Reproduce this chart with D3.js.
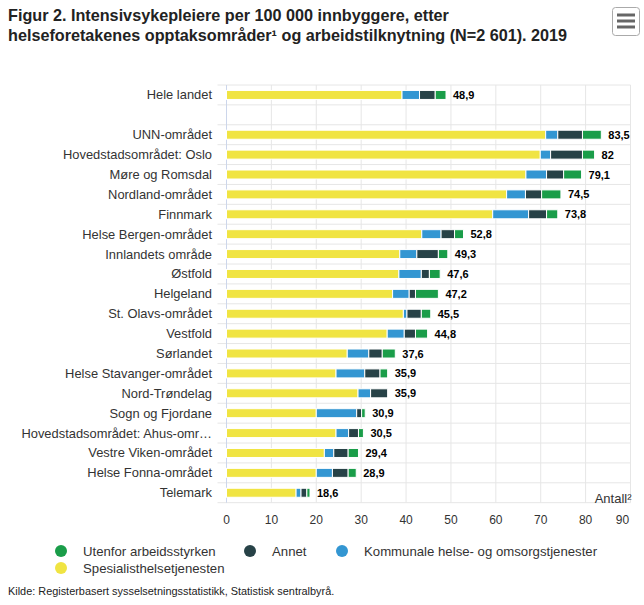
<!DOCTYPE html>
<html><head><meta charset="utf-8">
<script src="https://cdn.jsdelivr.net/npm/d3@7/dist/d3.min.js"></script>
<style>body{margin:0;background:#fff;font-family:"Liberation Sans",Arial,sans-serif}</style>
</head><body><svg id="c" width="644" height="605"></svg>
<script>
const categories = ["Hele landet","","UNN-området","Hovedstadsområdet: Oslo","Møre og Romsdal","Nordland-området","Finnmark","Helse Bergen-området","Innlandets område","Østfold","Helgeland","St. Olavs-området","Vestfold","Sørlandet","Helse Stavanger-området","Nord-Trøndelag","Sogn og Fjordane","Hovedstadsområdet: Ahus-omr…","Vestre Viken-området","Helse Fonna-området","Telemark"];
const spesialist = [39.1,null,71.1,69.9,66.7,62.4,59.3,43.5,38.6,38.4,37.0,39.4,35.8,26.9,24.4,29.3,20.0,24.4,21.8,20.0,15.5];
const kommunale  = [3.9,null,2.7,2.3,4.6,4.2,8.0,4.3,3.8,5.0,3.7,0.8,3.8,4.8,6.4,2.8,9.0,2.8,2.1,3.6,1.1];
const annet      = [3.5,null,5.5,7.1,3.8,3.6,4.0,3.0,4.8,1.8,1.4,3.2,2.5,3.0,3.4,3.8,1.1,2.2,3.2,3.5,1.3];
const utenfor    = [2.4,null,4.2,2.7,4.0,4.3,2.5,2.0,2.1,2.4,5.1,2.1,2.7,2.9,1.7,0,0.8,1.1,2.3,1.8,0.7];
const totals     = ["48,9","","83,5","82","79,1","74,5","73,8","52,8","49,3","47,6","47,2","45,5","44,8","37,6","35,9","35,9","30,9","30,5","29,4","28,9","18,6"];
const xTicks = [0,10,20,30,40,50,60,70,80,90];
const seriesNames = ["Spesialisthelsetjenesten","Kommunale helse- og omsorgstjenester","Annet","Utenfor arbeidsstyrken"];
const seriesColors = ["#f0e442","#3396d2","#274247","#1a9d49"];
const legendOrder = [3,2,1,0];

const svg = d3.select("#c");
const L=226.5, R=630.5, T=85, B=502.7;
const x = d3.scaleLinear().domain([0,90]).range([L,R]);
const y = d3.scaleBand().domain(d3.range(categories.length)).range([T,B]);

// title
const title = svg.append("text").attr("x",8).attr("fill","#222").attr("font-weight","bold").attr("font-size","16.2px");
title.append("tspan").attr("x",8).attr("y",21).text("Figur 2. Intensivsykepleiere per 100 000 innbyggere, etter");
title.append("tspan").attr("x",8).attr("y",41).text("helseforetakenes opptaksområder¹ og arbeidstilknytning (N=2 601). 2019");

// menu button
const mb = svg.append("g");
mb.append("rect").attr("x",612.5).attr("y",7.5).attr("width",27).attr("height",28).attr("rx",3).attr("fill","#fff").attr("stroke","#aaa");
[15,21,27].forEach(v=>mb.append("line").attr("x1",617).attr("x2",635).attr("y1",v).attr("y2",v).attr("stroke","#666").attr("stroke-width",3));

// grid
const g = svg.append("g");
g.selectAll(".vg").data(xTicks).join("line").attr("x1",d=>x(d)).attr("x2",d=>x(d)).attr("y1",T).attr("y2",B).attr("stroke","#e6e6e6");
const bounds = d3.range(categories.length+1).map(i=> i<categories.length? y(i): B);
g.selectAll(".hg").data(bounds).join("line").attr("x1",L-9).attr("x2",R).attr("y1",d=>d).attr("y2",d=>d).attr("stroke","#e6e6e6");
g.append("line").attr("x1",L).attr("x2",L).attr("y1",T).attr("y2",B).attr("stroke","#ccd6eb");

// x tick labels
svg.selectAll(".xt").data(xTicks).join("text").attr("x",d=>d===90? x(d)-8 : x(d)).attr("y",524).attr("text-anchor","middle").attr("font-size","12px").attr("fill","#333").text(d=>d);
svg.append("text").attr("x",R+1).attr("y",503).attr("text-anchor","end").attr("font-size","13px").attr("fill","#333").text("Antall²");

// category labels
svg.selectAll(".cl").data(categories).join("text").attr("x",212).attr("y",(d,i)=>y(i)+y.bandwidth()/2+4.5).attr("text-anchor","end").attr("font-size","12.9px").attr("fill","#333").text(d=>d);

// stacked bars
const vals = [spesialist,kommunale,annet,utenfor];
const rows = categories.map((c,i)=>({i, s:vals.map(a=>a[i]||0)}));
const stack = d3.stack().keys([0,1,2,3]).value((d,k)=>d.s[k])(rows);
const bh = 9;
stack.forEach((layer,k)=>{
  svg.append("g").selectAll("rect").data(layer.filter(d=>d.data.s[k]>0)).join("rect")
    .attr("x",d=>x(d[0])).attr("width",d=>Math.max(0,x(d[1])-x(d[0])))
    .attr("y",d=>y(d.data.i)+y.bandwidth()/2-bh/2).attr("height",bh)
    .attr("fill",seriesColors[k]).attr("stroke","#fff").attr("stroke-width",1);
});
// totals
svg.selectAll(".tl").data(rows.filter(r=>totals[r.i])).join("text")
  .attr("x",r=>x(d3.sum(r.s))+7).attr("y",r=>y(r.i)+y.bandwidth()/2+4)
  .attr("font-size","11px").attr("font-weight","bold").attr("fill","#000").text(r=>totals[r.i]);

// legend
const lp = [[61,551],[250,551],[342,551],[61,568]];
legendOrder.forEach((k,j)=>{
  const [lx,ly]=lp[j];
  svg.append("circle").attr("cx",lx).attr("cy",ly).attr("r",6).attr("fill",seriesColors[k]);
  svg.append("text").attr("x",lx+22).attr("y",ly+4.5).attr("font-size","13.2px").attr("fill","#333").text(seriesNames[k]);
});
svg.append("text").attr("x",8).attr("y",595).attr("font-size","10.9px").attr("fill","#222").text("Kilde: Registerbasert sysselsetningsstatistikk, Statistisk sentralbyrå.");
</script></body></html>
